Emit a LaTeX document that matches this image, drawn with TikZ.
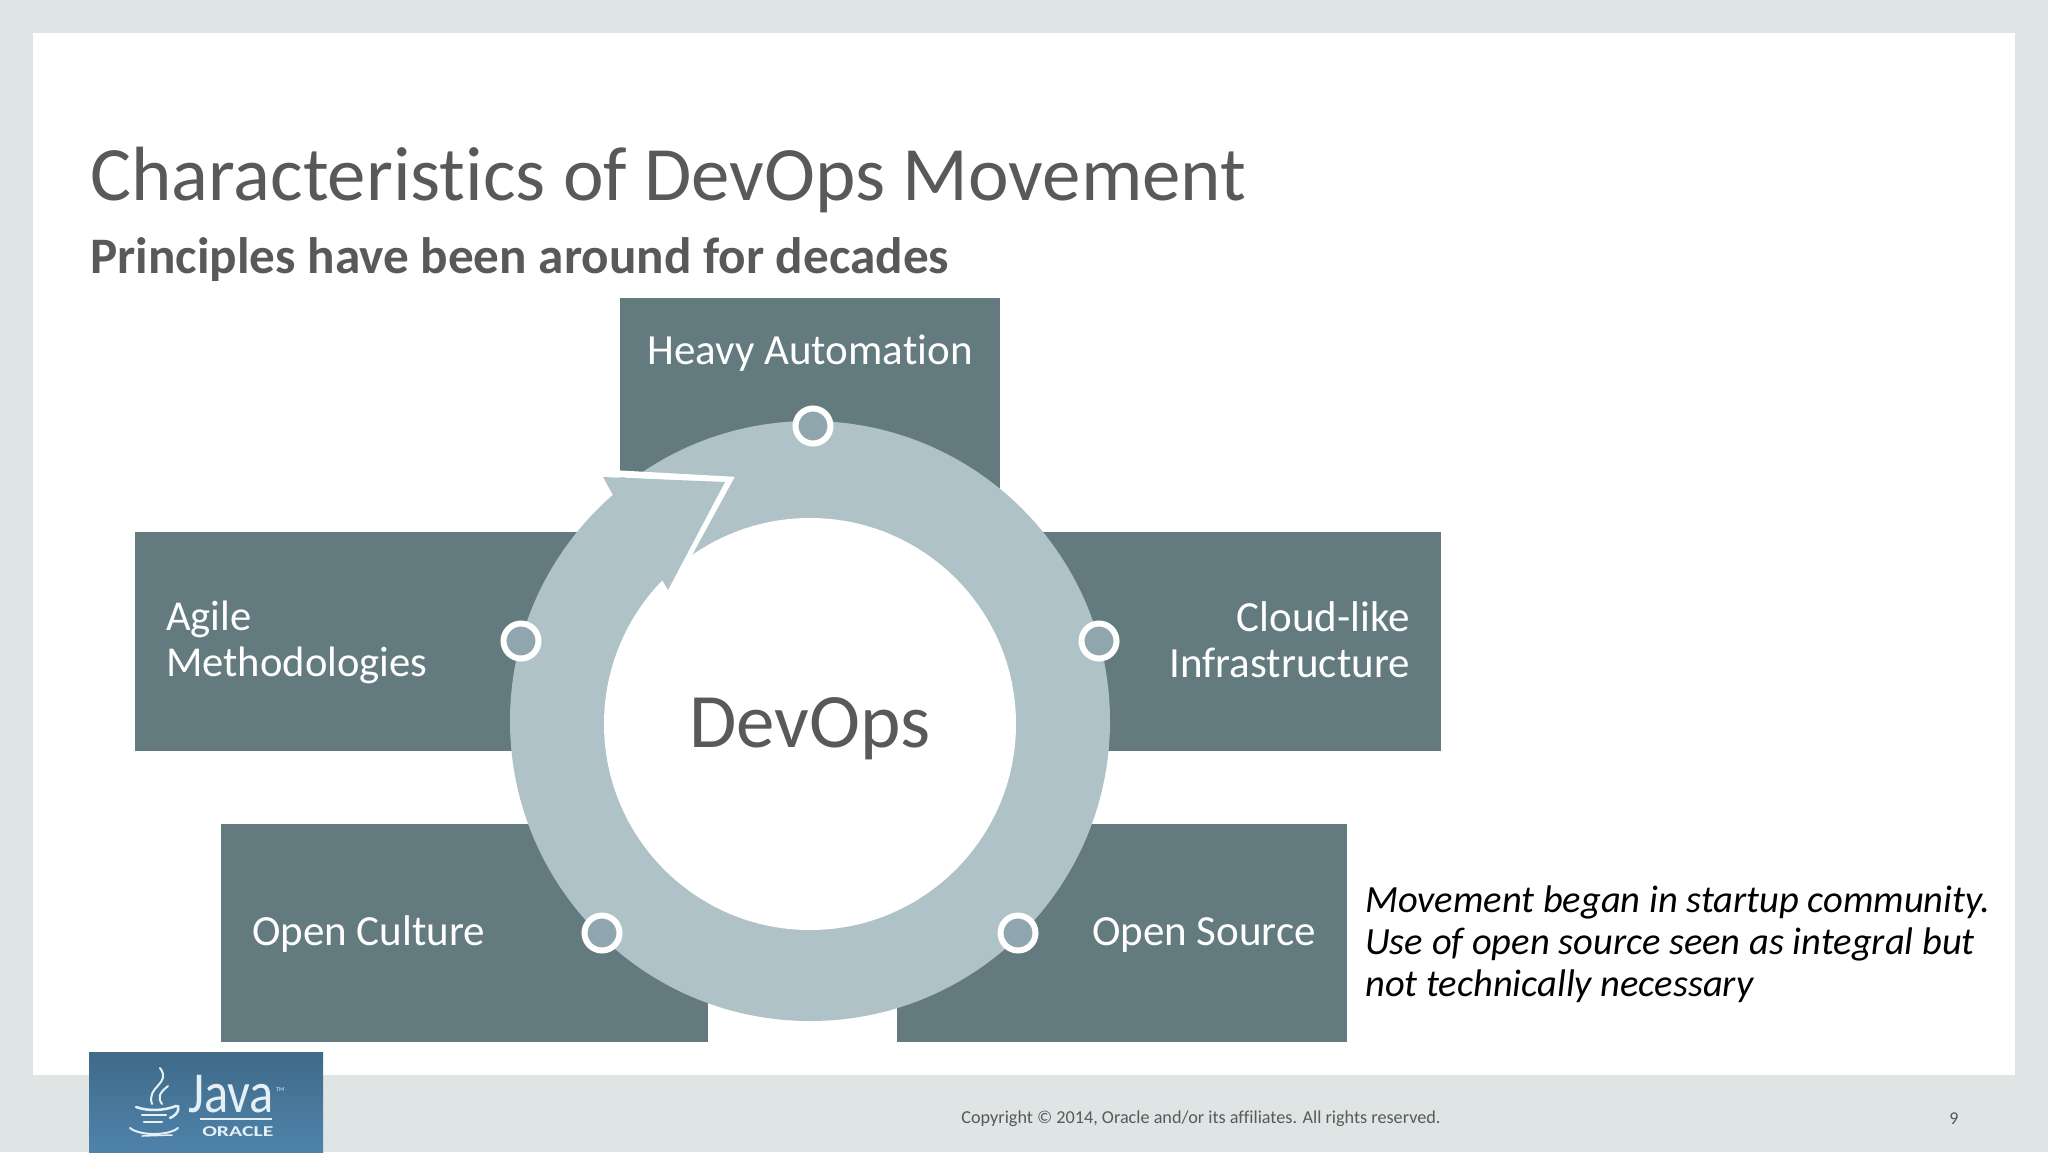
\documentclass[tikz,border=0pt]{standalone}
\usepackage{fontspec}
\setmainfont[Ligatures=NoCommon]{Carlito}
\usetikzlibrary{positioning}
\definecolor{slidegray}{HTML}{DEE5E4}
\definecolor{panelgray}{HTML}{637A7E}
\definecolor{ringblue}{HTML}{AFC2C8}
\definecolor{dotblue}{HTML}{8FA6AE}
\definecolor{textgray}{HTML}{595959}
\definecolor{logotop}{HTML}{3F6A88}
\definecolor{logobot}{HTML}{4F83AB}
\definecolor{logoink}{HTML}{E4F0F5}
\tikzset{
  panel/.style={fill=panelgray},
  paneltext/.style={text=white,inner sep=0pt,align=left,font=\fontsize{43}{46}\selectfont},
  dot/.style={circle,draw=white,line width=6pt,fill=dotblue,minimum size=35pt,inner sep=0pt},
}
\begin{document}
\begin{tikzpicture}[x=1pt,y=-1pt]
  \useasboundingbox (0,0) rectangle (2048,1152);
  \fill[slidegray] (0,0) rectangle (2048,1152);
  \fill[white] (33,33) rectangle (2015,1075);

  \node[anchor=base west,inner sep=0pt,text=textgray,font=\fontsize{76.9}{77}\selectfont] (title) at (90,200) {Characteristics of DevOps Movement};
  \node[anchor=base west,inner sep=0pt,text=textgray,font=\fontsize{51.2}{51}\selectfont\bfseries] (subtitle) at (90,273) {Principles have been around for decades};

  % Panels
  \fill[panel] (620,298) rectangle (1000,520);
  \fill[panel] (135,532) rectangle (600,751);
  \fill[panel] (1020,532) rectangle (1441,751);
  \fill[panel] (221,824) rectangle (708,1042);
  \fill[panel] (897,824) rectangle (1347,1042);

  % Ring
  \fill[ringblue] (810,721) circle (300pt);
  \fill[white] (810,724) circle (206pt);

  % Arrow
  \draw[white,line width=7pt,line join=miter] (603,473) -- (729,480) -- (669,590);
  \fill[ringblue] (603,477) -- (613,495) -- (662,580) -- (668,590) -- (725,482) -- cycle;

  % Dots
  \node[dot] (dottop) at (813,426) {};
  \node[dot] (dotleft) at (521,641) {};
  \node[dot] (dotright) at (1099,641) {};
  \node[dot] (dotbl) at (602,933) {};
  \node[dot] (dotbr) at (1018,933) {};

  % Labels
  \node[paneltext,anchor=base] (heavy) at (810,364) {Heavy Automation};
  \node[paneltext,anchor=west,font=\fontsize{42.6}{46}\selectfont] (agile) at (166,642) {Agile\\Methodologies};
  \node[paneltext,anchor=east,align=right] (cloud) at (1410,640) {Cloud-like\\Infrastructure};
  \node[paneltext,anchor=base west] (culture) at (252,945) {Open Culture};
  \node[paneltext,anchor=base east] (source) at (1316,945) {Open Source};
  \node[inner sep=0pt,text=textgray,font=\fontsize{77}{77}\selectfont] (devops) at (810,729) {DevOps};

  \node[anchor=north west,inner sep=0pt,align=left,font=\fontsize{38.5}{42}\selectfont\itshape] (note) at (1365,886) {Movement began in startup community.\\Use of open source seen as integral but\\not technically necessary};

  % Footer
  \node[inner sep=0pt,text=textgray,font=\fontsize{18.2}{18}\selectfont] (copyright) at (1201,1119) {Copyright © 2014, Oracle and/or its affiliates. All rights reserved.};
  \node[inner sep=0pt,text=textgray,font=\fontsize{18}{18}\selectfont] (pagenum) at (1954,1119) {9};

  % Logo
  \shade[top color=logotop,bottom color=logobot] (89,1052) rectangle (323,1152);
  \node[anchor=base west,inner sep=0pt,text=logoink,text depth=0pt,font=\fontsize{58}{58}\selectfont,xscale=.87] (java) at (188,1112) {Java};
  \node[anchor=base west,inner sep=0pt,text=logoink,font=\fontsize{6}{6}\selectfont] (tm) at (276,1091) {TM};
  \node[anchor=base west,inner sep=0pt,text=logoink,font=\fontsize{15}{15}\selectfont\bfseries,xscale=1.45] (oracle) at (202,1136) {ORACLE};
  \draw[logoink,line width=1.5pt] (200,1119) -- (272,1119);
  \draw[logoink,line width=2pt,line cap=round] (160,1068) .. controls (172,1084) and (146,1086) .. (152,1104);
  \draw[logoink,line width=2pt,line cap=round] (168,1086) .. controls (158,1094) and (158,1098) .. (162,1104);
  \draw[logoink,line width=2.5pt,line cap=round] (136,1107) .. controls (150,1112) and (166,1110) .. (176,1106)
    .. controls (180,1104) and (180,1114) .. (170,1118);
  \draw[logoink,line width=2.5pt,line cap=round] (142,1115) -- (166,1115);
  \draw[logoink,line width=2.5pt,line cap=round] (144,1122) -- (162,1122);
  \draw[logoink,line width=2pt,line cap=round] (130,1128) .. controls (140,1136) and (168,1136) .. (178,1128);
  \draw[logoink,line width=1.5pt,line cap=round] (142,1136) -- (172,1135);
\end{tikzpicture}
\end{document}
